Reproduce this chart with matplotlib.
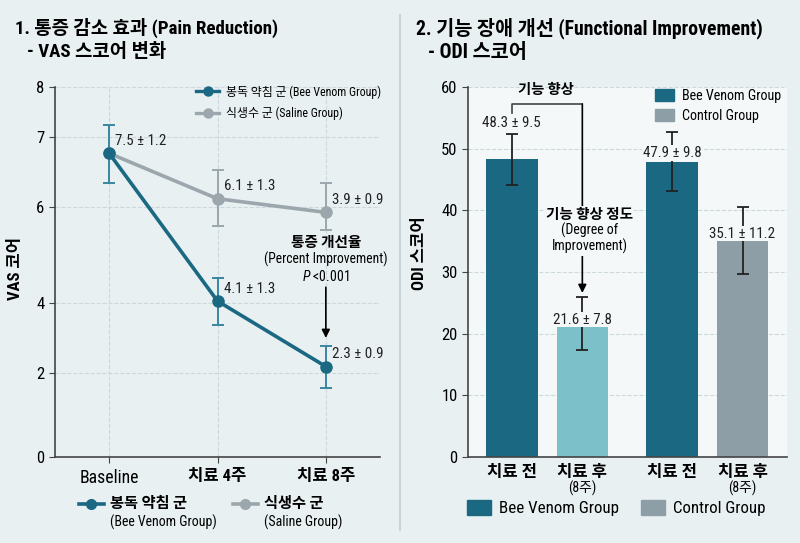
import numpy as np
import matplotlib
matplotlib.use('Agg')
import matplotlib.pyplot as plt
import matplotlib.font_manager as fm
from matplotlib.lines import Line2D
from matplotlib.patches import Patch

# 폰트 설정: 좁은 라틴 폰트가 있으면 사용
fonts = set(f.name for f in fm.fontManager.ttflist)
latin = 'Roboto'
for name in ['Roboto Condensed', 'Liberation Sans Narrow', 'Roboto']:
    if name in fonts:
        latin = name
        break
plt.rcParams['font.family'] = [latin, 'Noto Sans CJK KR', 'DejaVu Sans']
plt.rcParams['axes.unicode_minus'] = False
plt.rcParams['mathtext.fontset'] = 'custom'
plt.rcParams['mathtext.it'] = latin + ':italic'
plt.rcParams['mathtext.rm'] = latin

# %% 데이터
time_labels = ['Baseline', '치료 4주', '치료 8주']
bee_vas = [6.77, 4.04, 2.18]
bee_lo = [6.35, 3.37, 1.65]
bee_hi = [7.24, 4.53, 2.78]
saline_vas = [6.77, 6.12, 5.89]
saline_lo = [6.77, 5.61, 5.52]
saline_hi = [6.77, 6.53, 6.35]
bee_text = ['7.5 ± 1.2', '4.1 ± 1.3', '2.3 ± 0.9']
saline_text = ['', '6.1 ± 1.3', '3.9 ± 0.9']
vas_ticks = [0, 2, 4, 6, 7, 8]
vas_tick_pos = [0, 84, 154, 250, 320, 370]  # 원본 그림의 눈금 간격

odi_labels = ['치료 전', '치료 후', '치료 전', '치료 후']
odi_x = [0, 1, 2.27, 3.27]
odi_mean = [48.3, 21.6, 47.9, 35.1]
odi_err = [4.1, 4.3, 4.8, 5.5]
odi_text = ['48.3 ± 9.5', '21.6 ± 7.8', '47.9 ± 9.8', '35.1 ± 11.2']

# 색상
BG = '#e8f0f2'
AXBG = '#f4f8f9'
TEAL = '#1b6883'
TEAL_ERR = '#3a87a0'
LIGHT = '#7cc0ca'
GRAY = '#8e9ea6'
SALINE = '#9ba7ad'
DARK = '#222222'

fig = plt.figure(figsize=(8, 5.43), dpi=100, facecolor=BG)

# %% 1. 통증 감소 효과
ax1 = fig.add_axes([55/800, 1-456.7/543, 325/800, 369.4/543])
ax1.set_facecolor('none')
fwd = lambda v: np.interp(v, vas_ticks, vas_tick_pos)
inv = lambda p: np.interp(p, vas_tick_pos, vas_ticks)
ax1.set_yscale('function', functions=(fwd, inv))

xs = np.arange(len(time_labels))
sal_err = [np.subtract(saline_vas, saline_lo), np.subtract(saline_hi, saline_vas)]
bee_err = [np.subtract(bee_vas, bee_lo), np.subtract(bee_hi, bee_vas)]
ax1.errorbar(xs, saline_vas, yerr=sal_err, color=SALINE, lw=2.6, marker='o', ms=8,
             capsize=4.5, elinewidth=1.4, ecolor=SALINE, capthick=1.4, zorder=3)
ax1.errorbar(xs, bee_vas, yerr=bee_err, color=TEAL, lw=2.6, marker='o', ms=8,
             capsize=4.5, elinewidth=1.4, ecolor=TEAL_ERR, capthick=1.4, zorder=4)

for x, y, t in zip(xs, bee_vas, bee_text):
    ax1.annotate(t, (x, y), xytext=(4.5, 9), textcoords='offset points',
                 fontsize=10.8, va='center', ha='left', color=DARK)
for x, y, t in zip(xs, saline_vas, saline_text):
    if t:
        ax1.annotate(t, (x, y), xytext=(4.5, 9), textcoords='offset points',
                     fontsize=10.8, va='center', ha='left', color=DARK)

# 개선율 화살표
ax1.annotate('', xy=(2, bee_hi[2]), xytext=(0, 42), textcoords='offset points',
             arrowprops=dict(arrowstyle='-|>', color='black', lw=1.2,
                             shrinkA=0, shrinkB=5.5, mutation_scale=12))
ax1.annotate('통증 개선율', (2, bee_hi[2]), xytext=(0, 74), textcoords='offset points',
             ha='center', va='center', fontsize=10.5, fontweight='bold')
ax1.annotate('(Percent Improvement)', (2, bee_hi[2]), xytext=(0, 62),
             textcoords='offset points', ha='center', va='center', fontsize=9.8)
ax1.annotate('$P$ <0.001', (2, bee_hi[2]), xytext=(0, 50),
             textcoords='offset points', ha='center', va='center', fontsize=10)

ax1.set_xlim(-0.5, 2.5)
ax1.set_ylim(0, 8)
ax1.set_yticks(vas_ticks)
ax1.set_xticks(xs)
ax1.set_xticklabels(time_labels, fontsize=12)
for lab in ax1.get_xticklabels():
    if lab.get_text().isascii():
        lab.set_fontsize(12.8)
    else:
        lab.set_fontweight('bold')
ax1.tick_params(axis='y', labelsize=12, length=4, color='#444444')
ax1.tick_params(axis='x', length=4, color='#444444', pad=5)
ax1.grid(True, ls='--', color='#cdd8dc', lw=0.8)
ax1.set_axisbelow(True)
for s in ['top', 'right']:
    ax1.spines[s].set_visible(False)
for s in ['left', 'bottom']:
    ax1.spines[s].set_color('#444444')
    ax1.spines[s].set_linewidth(1.2)
ax1.set_ylabel('VAS 코어', fontsize=12, fontweight='bold')
ax1.yaxis.set_label_coords(-0.10, 0.51)

line_h = [Line2D([], [], color=TEAL, lw=2.4, marker='o', ms=6.5),
          Line2D([], [], color=SALINE, lw=2.4, marker='o', ms=6.5)]
ax1.legend(line_h, ['봉독 약침 군 (Bee Venom Group)', '식생수 군 (Saline Group)'],
           loc='upper right', bbox_to_anchor=(1.035, 1.035), frameon=False,
           fontsize=8.6, handlelength=1.9, labelspacing=0.65, handletextpad=0.55)

# 아래쪽 범례 (두 줄 라벨)
for x0, c, kr, en in [(79, TEAL, '봉독 약침 군', '(Bee Venom Group)'),
                      (233, SALINE, '식생수 군', '(Saline Group)')]:
    fig.add_artist(Line2D([x0/800, (x0+12)/800, (x0+25)/800], [1-504/543]*3,
                          transform=fig.transFigure, color=c, lw=2.6,
                          marker='o', ms=7, markevery=[1]))
    fig.text((x0+31)/800, 1-504/543, kr, fontsize=11, fontweight='bold',
             va='center', ha='left')
    fig.text((x0+31)/800, 1-522/543, en, fontsize=10, va='center', ha='left')

# %% 2. 기능 장애 개선
ax2 = fig.add_axes([468/800, 1-456.7/543, 319/800, 369.4/543])
ax2.set_facecolor(AXBG)
bar_colors = [TEAL, LIGHT, TEAL, GRAY]
ax2.bar(odi_x, odi_mean, width=0.73, color=bar_colors, zorder=2)
ax2.errorbar(odi_x, odi_mean, yerr=odi_err, fmt='none', ecolor=DARK,
             elinewidth=1.3, capsize=4.5, capthick=1.3, zorder=3)

# 첫 막대는 오차 막대 위, 나머지는 막대 바로 위 (pt 오프셋)
label_base = [odi_mean[0] + odi_err[0]] + odi_mean[1:]
label_off = [8, 3, 6.5, 5]
for x, b, t, off in zip(odi_x, label_base, odi_text, label_off):
    ax2.annotate(t, (x, b), xytext=(0, off), textcoords='offset points',
                 ha='center', va='center', fontsize=10.8, color=DARK, zorder=5,
                 bbox=dict(boxstyle='square,pad=0.05', fc=AXBG, ec='none'))

# 기능 향상 브래킷
ax2.plot([odi_x[0], odi_x[0], odi_x[1]], [55.8, 57.3, 57.3], color='#444444',
         lw=1.2, zorder=4)
ax2.annotate('', xy=(odi_x[1], 26.6), xytext=(odi_x[1], 57.3),
             arrowprops=dict(arrowstyle='-|>', color='black', lw=1.2,
                             shrinkA=0, shrinkB=0, mutation_scale=12), zorder=4)
ax2.text(0.49, 59.6, '기능 향상', ha='center', va='center', fontsize=10.3,
         fontweight='bold', clip_on=False)
ax2.text(1.1, 39.3, '기능 향상 정도', ha='center', va='center', fontsize=10.5,
         fontweight='bold', zorder=5,
         bbox=dict(boxstyle='square,pad=0.1', fc=AXBG, ec='none'))
ax2.text(1.1, 35.4, '(Degree of\nImprovement)', ha='center', va='center',
         fontsize=10, zorder=5, linespacing=1.05,
         bbox=dict(boxstyle='square,pad=0.1', fc=AXBG, ec='none'))

ax2.set_xlim(-0.62, 3.9)
ax2.set_ylim(0, 60)
ax2.set_yticks(range(0, 61, 10))
ax2.set_xticks(odi_x)
ax2.set_xticklabels(odi_labels, fontsize=12, fontweight='bold')
for x in [odi_x[1], odi_x[3]]:
    ax2.text(x, -0.085, '(8주)', transform=ax2.get_xaxis_transform(),
             ha='center', va='center', fontsize=10)
ax2.tick_params(axis='y', labelsize=12, length=4, color='#444444')
ax2.tick_params(axis='x', length=0, pad=6)
ax2.grid(True, axis='y', ls='--', color='#cdd8dc', lw=0.8)
ax2.set_axisbelow(True)
for s in ['top', 'right']:
    ax2.spines[s].set_visible(False)
for s in ['left', 'bottom']:
    ax2.spines[s].set_color('#444444')
    ax2.spines[s].set_linewidth(1.2)
ax2.set_ylabel('ODI 스코어', fontsize=12, fontweight='bold')
ax2.yaxis.set_label_coords(-0.128, 0.55)

patches = [Patch(color=TEAL, label='Bee Venom Group'),
           Patch(color=GRAY, label='Control Group')]
ax2.legend(handles=patches, loc='upper right', bbox_to_anchor=(1.02, 1.03),
           frameon=False, fontsize=10.2, handlelength=1.4, handleheight=0.9,
           labelspacing=0.4, handletextpad=0.5)
fig.legend(handles=patches, loc='center left', bbox_to_anchor=(467/800, 1-508/543),
           frameon=False, fontsize=12.2, ncol=2, handlelength=1.4, handleheight=1.0,
           handletextpad=0.5, columnspacing=1.3, borderpad=0, borderaxespad=0)

# %% 제목 및 구분선
fig.text(15/800, 1-28/543, '1. 통증 감소 효과 (Pain Reduction)', fontsize=13.6,
         fontweight='bold', va='center')
fig.text(27/800, 1-52/543, '- VAS 스코어 변화', fontsize=13.6, fontweight='bold',
         va='center')
fig.text(416/800, 1-28/543, '2. 기능 장애 개선 (Functional Improvement)', fontsize=14.2,
         fontweight='bold', va='center')
fig.text(428/800, 1-52/543, '- ODI 스코어', fontsize=14.2, fontweight='bold',
         va='center')
fig.add_artist(Line2D([0.5, 0.5], [1-15/543, 1-530/543], transform=fig.transFigure,
                      color='#c8d6dc', lw=1.5))

fig.savefig('out.png', dpi=100, facecolor=BG)
